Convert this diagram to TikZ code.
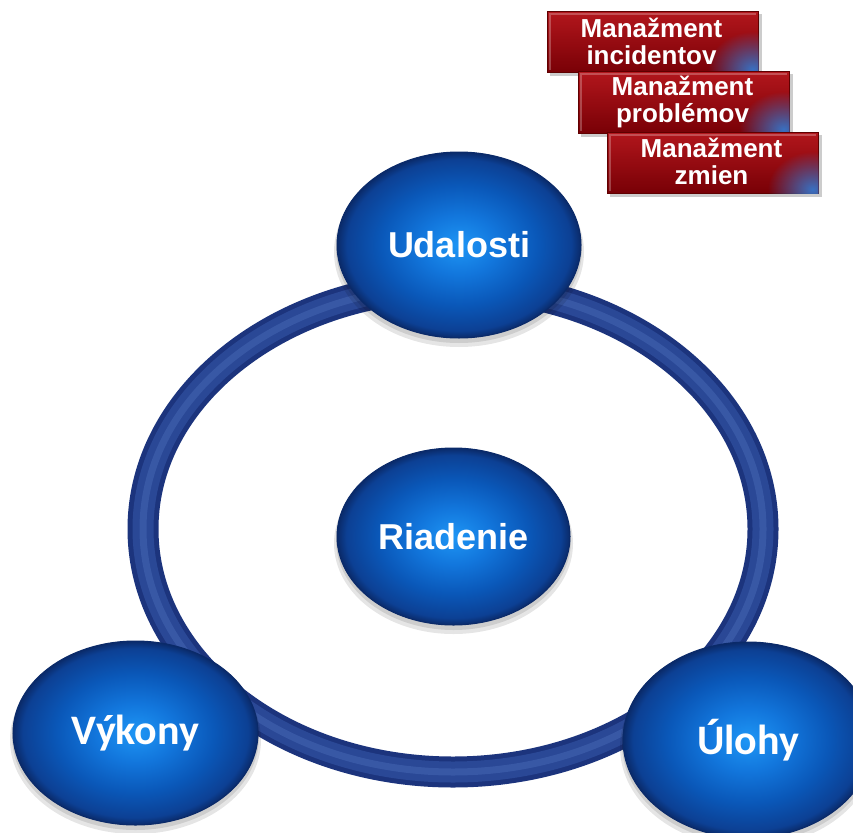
\documentclass[tikz,border=0pt]{standalone}
\usepackage{fontspec}
\setmainfont{Liberation Sans}
\newfontfamily\calfont{Carlito}
\usetikzlibrary{shapes.geometric,fadings}
\definecolor{bhi}{RGB}{30,150,245}
\definecolor{bmidA}{RGB}{18,118,220}
\definecolor{bmid}{RGB}{10,88,185}
\definecolor{bdark}{RGB}{12,64,148}
\definecolor{brim}{RGB}{10,42,105}
\definecolor{ringdark}{RGB}{28,52,125}
\definecolor{ringmid}{RGB}{42,72,150}
\definecolor{ringhi}{RGB}{62,95,172}
\definecolor{redtop}{RGB}{178,22,28}
\definecolor{redbot}{RGB}{120,0,6}
\definecolor{redrim}{RGB}{95,0,0}
\definecolor{glowblue}{RGB}{50,125,215}
\tikzfading[name=glowfade, inner color=transparent!10, outer color=transparent!100]
\pgfdeclareradialshading{bluesph}{\pgfpoint{0bp}{0bp}}{color(0bp)=(bhi); color(8bp)=(bmidA); color(16bp)=(bmid); color(23bp)=(bdark); color(25bp)=(brim); color(50bp)=(brim)}
\tikzset{
  blueball/.style={ellipse, shading=bluesph, draw=brim, line width=1pt, text=white, inner sep=0pt},
  balltext/.style={font=\bfseries\fontsize{36}{40}\selectfont},
  calitext/.style={font=\calfont\bfseries\fontsize{42}{46}\selectfont},
  redbox/.style={rectangle, minimum width=211pt, minimum height=61pt, top color=redtop, bottom color=redbot, draw=redrim, line width=1pt, inner sep=0pt},
  boxtext/.style={text=white, align=center, inner sep=0pt, font=\bfseries\fontsize{26}{27}\selectfont},
  ballshadow/.style={fill=black, opacity=0.10},
}
\begin{document}
\begin{tikzpicture}[x=1pt,y=-1pt]
\useasboundingbox (0,0) rectangle (853,832);
\fill[white] (0,0) rectangle (853,832);
\clip (0,0) rectangle (853,832);
% ring
\coordinate (ringc) at (453,529);
\draw[ringdark, line width=31pt] (ringc) ellipse [x radius=310, y radius=243];
\draw[ringmid, line width=21pt] (ringc) ellipse [x radius=310, y radius=243];
\draw[ringhi, line width=7pt, opacity=0.7] (ringc) ellipse [x radius=310, y radius=243];
% shadows
\foreach \cx/\cy/\rx/\ry in {459/245/122/93, 453.5/536.5/116.5/88.5, 135.5/733/122.5/92, 748/740/125/98}{
  \fill[ballshadow] (\cx,\cy+7) ellipse [x radius=\rx+3, y radius=\ry+2];
  \fill[ballshadow] (\cx,\cy+4) ellipse [x radius=\rx+1, y radius=\ry+1];
}
% balls
\node[blueball, balltext, minimum width=244pt, minimum height=186pt] (udal) at (459,245) {Udalosti};
\node[blueball, balltext, minimum width=233pt, minimum height=177pt] (riad) at (453.5,536.5) {Riadenie};
\node[blueball, calitext, minimum width=245pt, minimum height=184pt] (vyk) at (135.5,733) {Výkony};
\node[blueball, calitext, minimum width=250pt, minimum height=196pt] (ulo) at (748,740) {\raisebox{-3pt}{Úlohy}};
% red boxes
\foreach \name/\cx/\cy/\txt in {box1/652.5/42.5/{Manažment\\incidentov}, box2/683.5/102.5/{Manažment\\problémov}, box3/712.5/162.5/{Manažment\\zmien}}{
  \fill[black, opacity=0.2] (\cx-103,\cy-28) rectangle (\cx+109,\cy+34);
  \node[redbox] (\name) at (\cx,\cy) {};
  \begin{scope}
    \clip (\name.south west) rectangle (\name.north east);
    \fill[glowblue, path fading=glowfade] (\name.south east) ++(-6,-4) ellipse [x radius=45, y radius=38];
    \draw[white, opacity=0.25, line width=2pt] (\name.south west) ++(3,-3) |- ([xshift=-3pt,yshift=-3pt]\name.north east);
  \end{scope}
  \node[boxtext] (\name t) at (\cx-1,\cy-1) {\txt};
}
\end{tikzpicture}
\end{document}
